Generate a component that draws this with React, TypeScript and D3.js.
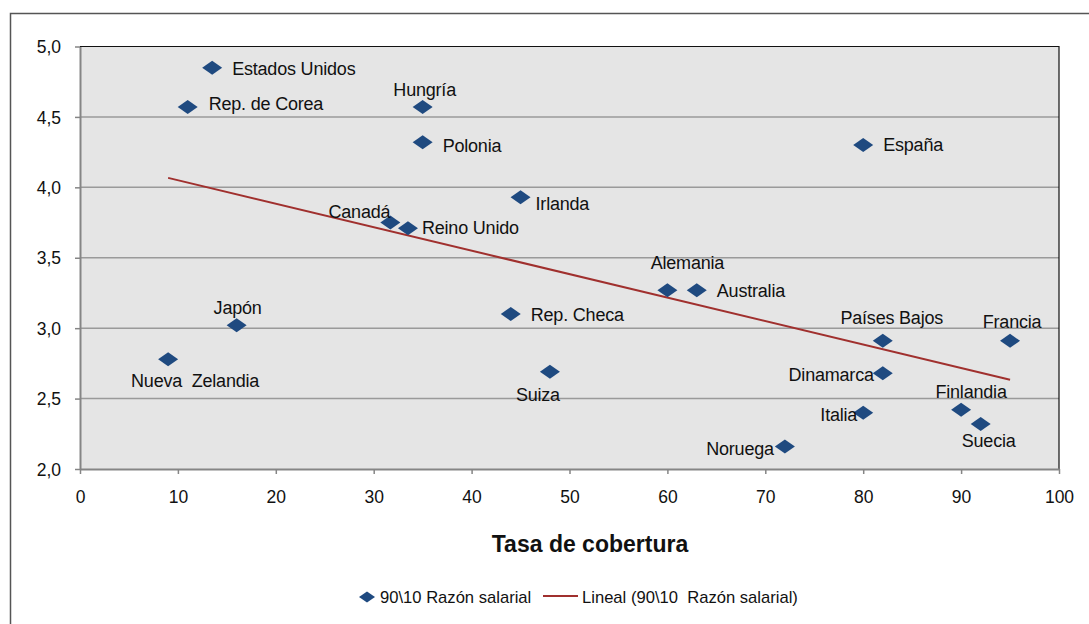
import { useEffect, useRef } from "react";
import * as d3 from "d3";

// Country labels, coverage rate (x) and 90/10 wage ratio (y)
const countries = [
  "Estados Unidos", "Rep. de Corea", "Hungría", "Polonia", "España", "Irlanda",
  "Canadá", "Reino Unido", "Alemania", "Australia", "Rep. Checa", "Japón",
  "Países Bajos", "Francia", "Nueva  Zelandia", "Suiza", "Dinamarca",
  "Finlandia", "Italia", "Suecia", "Noruega",
];
const coverage = [13.5, 11, 35, 35, 80, 45, 31.7, 33.5, 60, 63, 44, 16, 82, 95, 9, 48, 82, 90, 80, 92, 72];
const wageRatio = [4.85, 4.57, 4.57, 4.32, 4.30, 3.93, 3.75, 3.71, 3.27, 3.27, 3.10, 3.02, 2.91, 2.91, 2.78, 2.69, 2.68, 2.42, 2.40, 2.32, 2.16];

const xTicks = [0, 10, 20, 30, 40, 50, 60, 70, 80, 90, 100];
const yTicks = [2.0, 2.5, 3.0, 3.5, 4.0, 4.5, 5.0];

// label placement: anchor + pixel offset from marker
const labelPos: Record<string, [string, number, number]> = {
  "Estados Unidos": ["start", 20, 1],
  "Rep. de Corea": ["start", 21, -3],
  "Hungría": ["middle", 2, -17],
  "Polonia": ["start", 20, 3],
  "España": ["start", 20, 0],
  "Irlanda": ["start", 15, 7],
  "Canadá": ["end", 0, -11],
  "Reino Unido": ["start", 14, 0],
  "Alemania": ["middle", 20, -27],
  "Australia": ["start", 20, 1],
  "Rep. Checa": ["start", 20, 1],
  "Japón": ["middle", 1, -18],
  "Países Bajos": ["middle", 9, -23],
  "Francia": ["middle", 2, -19],
  "Nueva  Zelandia": ["middle", 27, 22],
  "Suiza": ["middle", -12, 23],
  "Dinamarca": ["end", -9, 1],
  "Finlandia": ["middle", 10, -18],
  "Italia": ["end", -6, 2],
  "Suecia": ["middle", 8, 17],
  "Noruega": ["end", -11, 2],
};

const W = 1089;
const H = 624;
const M = { left: 80, top: 46.5, right: 1059, bottom: 469 };
const FONT = "'Liberation Sans', Arial, sans-serif";
const BLUE = "#1f4a80";
const RED = "#a0302e";

export default function App() {
  const ref = useRef<SVGSVGElement>(null);

  useEffect(() => {
    if (!ref.current) return;
    const svg = d3.select(ref.current);
    svg.selectAll("*").remove();

    const x = d3.scaleLinear().domain([0, 100]).range([M.left, M.right]);
    const y = d3.scaleLinear().domain([2, 5]).range([M.bottom, M.top]);

    svg.append("rect").attr("width", W).attr("height", H).attr("fill", "white");

    // outer chart frame
    svg.append("path")
      .attr("d", `M10.5,${H}V13.5H${W}`)
      .attr("fill", "none")
      .attr("stroke", "#555")
      .attr("stroke-width", 1.5);

    // plot area
    svg.append("rect")
      .attr("x", M.left).attr("y", M.top)
      .attr("width", M.right - M.left).attr("height", M.bottom - M.top)
      .attr("fill", "#e5e5e5");

    // gridlines
    svg.append("g")
      .selectAll("line")
      .data(yTicks.slice(1, -1))
      .join("line")
      .attr("x1", M.left).attr("x2", M.right)
      .attr("y1", (d) => y(d)).attr("y2", (d) => y(d))
      .attr("stroke", "#9a9a9a")
      .attr("stroke-width", 1.5);

    // top and right border
    svg.append("path")
      .attr("d", `M${M.left},${M.top}H${M.right}V${M.bottom}`)
      .attr("fill", "none")
      .attr("stroke", "#111")
      .attr("stroke-width", 1.2);

    // axes
    const xAxis = svg.append("g").attr("transform", `translate(0,${M.bottom})`)
      .call(d3.axisBottom(x).tickValues(xTicks).tickSize(5).tickSizeOuter(0).tickPadding(17)
        .tickFormat((d) => String(d)));
    const yAxis = svg.append("g").attr("transform", `translate(${M.left},0)`)
      .call(d3.axisLeft(y).tickValues(yTicks).tickSize(5).tickSizeOuter(0).tickPadding(14)
        .tickFormat((d) => (d as number).toFixed(1).replace(".", ",")));
    for (const a of [xAxis, yAxis]) {
      a.select(".domain").attr("stroke", "#858585").attr("stroke-width", 2);
      a.selectAll(".tick line").attr("stroke", "#858585").attr("stroke-width", 1.5);
      a.selectAll(".tick text")
        .attr("fill", "#111")
        .attr("font-family", FONT)
        .attr("font-size", 17.5);
    }
    yAxis.selectAll(".tick text").attr("dy", "0.35em");

    // linear trendline (least squares over the data range)
    const n = coverage.length;
    const mx = d3.mean(coverage)!;
    const my = d3.mean(wageRatio)!;
    let sxy = 0, sxx = 0;
    for (let i = 0; i < n; i++) {
      sxy += (coverage[i] - mx) * (wageRatio[i] - my);
      sxx += (coverage[i] - mx) ** 2;
    }
    const slope = sxy / sxx;
    const icpt = my - slope * mx;
    const [x0, x1] = d3.extent(coverage) as [number, number];
    svg.append("line")
      .attr("x1", x(x0)).attr("y1", y(icpt + slope * x0))
      .attr("x2", x(x1)).attr("y2", y(icpt + slope * x1))
      .attr("stroke", RED)
      .attr("stroke-width", 2);

    const diamond = "M0,-7L10,0L0,7L-10,0Z";

    // points
    const pts = svg.append("g");
    countries.forEach((c, i) => {
      const px = x(coverage[i]);
      const py = y(wageRatio[i]);
      pts.append("path")
        .attr("d", diamond)
        .attr("transform", `translate(${px},${py})`)
        .attr("fill", BLUE);
      const [anchor, dx, dy] = labelPos[c];
      pts.append("text")
        .attr("x", px + dx)
        .attr("y", py + dy)
        .attr("dy", "0.35em")
        .attr("text-anchor", anchor)
        .attr("font-family", FONT)
        .attr("font-size", 18)
        .attr("letter-spacing", -0.2)
        .attr("fill", "#111")
        .style("white-space", "pre")
        .text(c);
    });

    // axis title
    svg.append("text")
      .attr("x", 590).attr("y", 544)
      .attr("dy", "0.35em")
      .attr("text-anchor", "middle")
      .attr("font-family", FONT)
      .attr("font-size", 23)
      .attr("font-weight", "bold")
      .attr("fill", "#111")
      .text("Tasa de cobertura");

    // legend
    const lg = svg.append("g").attr("transform", "translate(0,597)");
    lg.append("path").attr("d", diamond).attr("transform", "translate(367,0) scale(0.8)").attr("fill", BLUE);
    lg.append("text")
      .attr("x", 380).attr("dy", "0.35em")
      .attr("font-family", FONT).attr("font-size", 16.6).attr("fill", "#111")
      .text("90\\10 Razón salarial");
    lg.append("line").attr("x1", 543).attr("x2", 578).attr("y1", -1).attr("y2", -1)
      .attr("stroke", RED).attr("stroke-width", 2);
    lg.append("text")
      .attr("x", 582).attr("dy", "0.35em")
      .attr("font-family", FONT).attr("font-size", 16.6).attr("fill", "#111")
      .style("white-space", "pre")
      .text("Lineal (90\\10  Razón salarial)");
  }, []);

  return (
    <svg
      ref={ref}
      width={W}
      height={H}
      style={{ position: "fixed", left: 0, top: 0, display: "block" }}
    />
  );
}
